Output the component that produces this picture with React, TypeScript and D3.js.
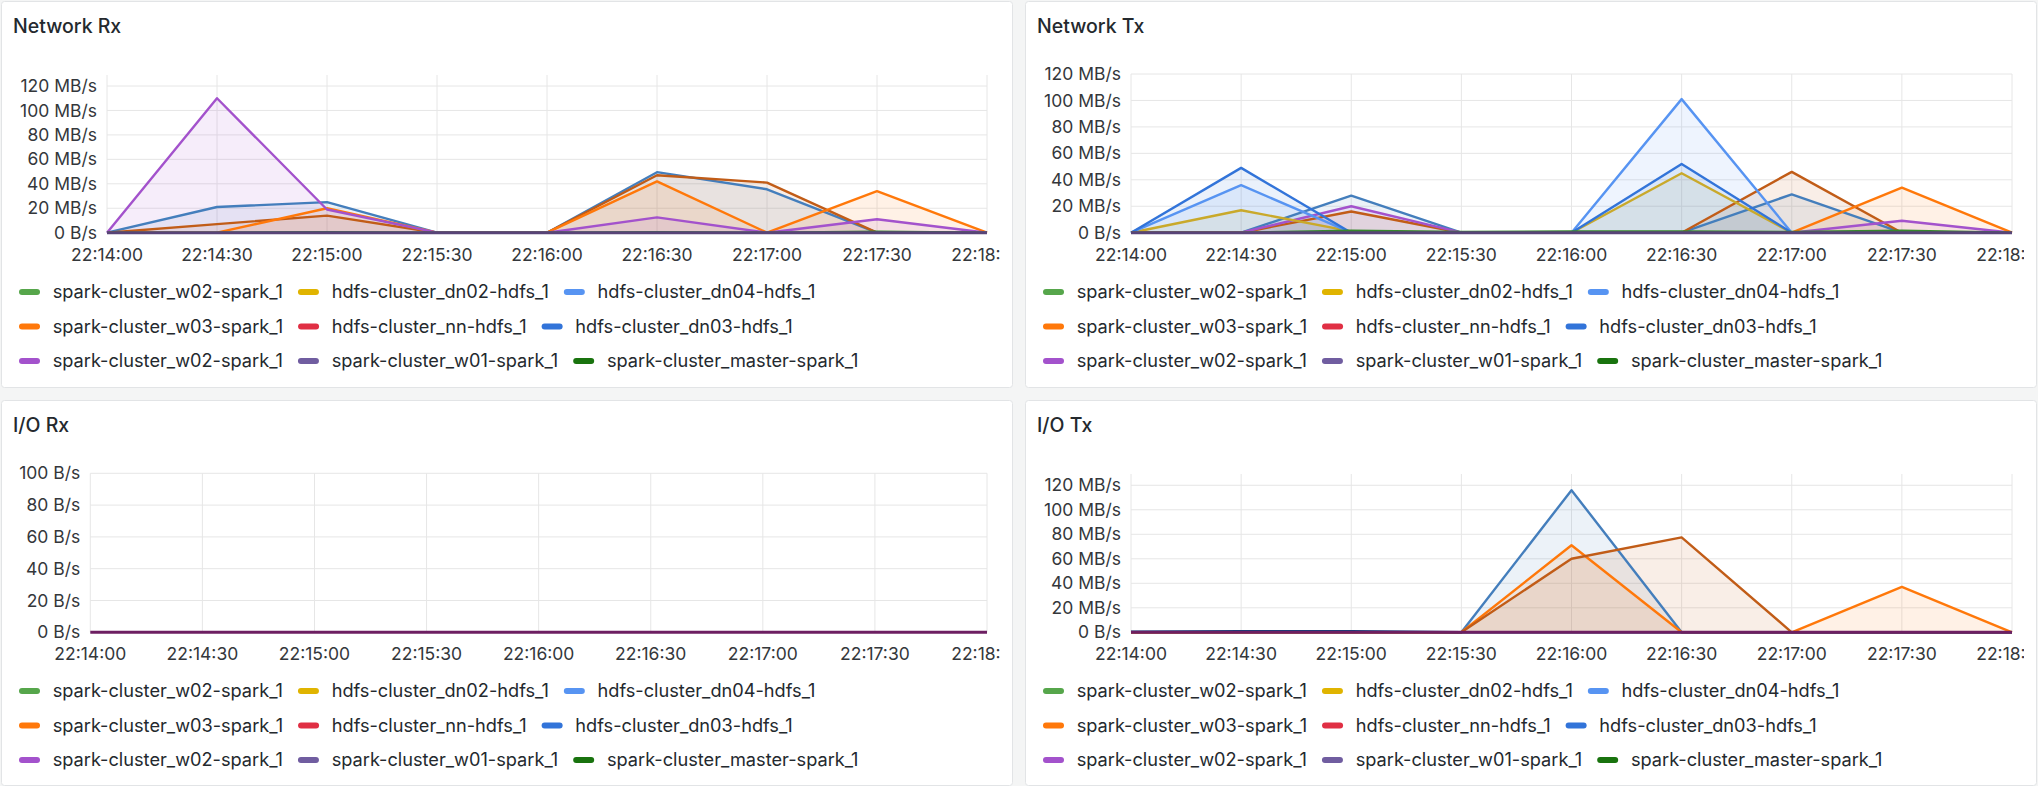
import React, { useRef, useEffect } from 'react';
import * as d3 from 'd3';

// sample times, one every 30 s
const times = ['22:14:00', '22:14:30', '22:15:00', '22:15:30', '22:16:00', '22:16:30', '22:17:00', '22:17:30', '22:18:00'];

const legendNames = [
  'spark-cluster_w02-spark_1', 'hdfs-cluster_dn02-hdfs_1', 'hdfs-cluster_dn04-hdfs_1',
  'spark-cluster_w03-spark_1', 'hdfs-cluster_nn-hdfs_1', 'hdfs-cluster_dn03-hdfs_1',
  'spark-cluster_w02-spark_1', 'spark-cluster_w01-spark_1', 'spark-cluster_master-spark_1',
];
const legendColors = ['#56a64b', '#e0b400', '#5794f2', '#ff780a', '#e02f44', '#3274d9', '#a352cc', '#705da0', '#19730e'];

const mbTicks = [0, 20, 40, 60, 80, 100, 120];
const bTicks = [0, 20, 40, 60, 80, 100];

// Network Rx (MB/s)
const rxSteel = [0, 21, 25, 0, 0, 49.5, 35.5, 0, 0];
const rxDarkOrange = [0, 7, 14, 0, 0, 47, 41, 0, 0];
const rxOrange = [0, 0, 20, 0, 0, 42, 0, 34, 0];
const rxPurple = [0, 110, 19, 0, 0, 12.5, 0, 11, 0];
const rxGreen = [0, 0, 0.5, 0, 0, 0.5, 0, 0.8, 0];
const rxBase = [0, 0, 0, 0, 0, 0, 0, 0, 0];

// Network Tx (MB/s)
const txSteel = [0, 0, 28, 0, 0, 0, 29, 0, 0];
const txDarkOrange = [0, 0, 16, 0, 0, 0, 46, 0, 0];
const txPurple = [0, 0, 20, 0, 0, 0, 0, 9, 0];
const txYellow = [0, 17, 1, 0, 0, 45, 0, 0, 0];
const txLightBlue = [0, 36, 0, 0, 0, 101, 0, 0, 0];
const txBlue = [0, 49, 0, 0, 0, 52, 0, 0, 0];
const txOrange = [0, 0, 0, 0, 0, 0, 0, 34, 0];
const txGreen = [0, 0, 1.5, 0.5, 1, 1, 0.5, 1.5, 0];
const txBase = [0, 0, 0, 0, 0, 0, 0, 0, 0];

// I/O Rx (B/s)
const ioRxBase = [0, 0, 0, 0, 0, 0, 0, 0, 0];

// I/O Tx (MB/s)
const ioTxSteel = [0, 0, 0, 0, 116, 0, 0, 0, 0];
const ioTxOrange = [0, 0, 0, 0, 71, 0, 0, 37, 0];
const ioTxDarkOrange = [0, 0, 0, 0, 60, 77.5, 0, 0, 0];
const ioTxNavy = [0.5, 1, 1, 0, 0, 0, 0, 0, 0];
const ioTxBase = [0, 0, 0, 0, 0, 0, 0, 0, 0];

const mbFormat = (v: number) => (v === 0 ? '0 B/s' : `${v} MB/s`);
const bFormat = (v: number) => `${v} B/s`;

const panels = [
  {
    title: 'Network Rx', x: 1, y: 1, w: 1011, h: 386,
    left: 107, right: 987, top: 75, zero: 232.7, max: 129, ticks: mbTicks, fmt: mbFormat,
    series: [
      { v: rxSteel, c: '#447ebc' }, { v: rxDarkOrange, c: '#c15c17' }, { v: rxOrange, c: '#ff780a' },
      { v: rxPurple, c: '#a352cc' }, { v: rxGreen, c: '#37872d' }, { v: rxBase, c: '#584477', base: true },
    ],
  },
  {
    title: 'Network Tx', x: 1025, y: 1, w: 1011, h: 386,
    left: 1131, right: 2012, top: 74, zero: 232.7, max: 120, ticks: mbTicks, fmt: mbFormat,
    series: [
      { v: txSteel, c: '#447ebc' }, { v: txDarkOrange, c: '#c15c17' }, { v: txPurple, c: '#a352cc' },
      { v: txYellow, c: '#c9a92b' }, { v: txLightBlue, c: '#5794f2' }, { v: txBlue, c: '#3274d9' },
      { v: txOrange, c: '#ff780a' }, { v: txGreen, c: '#37872d' }, { v: txBase, c: '#584477', base: true },
    ],
  },
  {
    title: 'I/O Rx', x: 1, y: 400, w: 1011, h: 385,
    left: 90.3, right: 987, top: 473.3, zero: 632.3, max: 100, ticks: bTicks, fmt: bFormat,
    series: [{ v: ioRxBase, c: '#6d1f62', base: true }],
  },
  {
    title: 'I/O Tx', x: 1025, y: 400, w: 1011, h: 385,
    left: 1131, right: 2012, top: 474, zero: 632.3, max: 129.2, ticks: mbTicks, fmt: mbFormat,
    series: [
      { v: ioTxSteel, c: '#447ebc' }, { v: ioTxOrange, c: '#ff780a' }, { v: ioTxDarkOrange, c: '#c15c17' },
      { v: ioTxNavy, c: '#0a437c' }, { v: ioTxBase, c: '#6d1f62', base: true },
    ],
  },
];

const FONT = 'Inter, "Noto Sans", sans-serif';

export default function App() {
  const svgRef = useRef<SVGSVGElement>(null);

  useEffect(() => {
    const width = 2038;
    const height = 786;
    const svg = d3.select(svgRef.current);
    svg.selectAll('*').remove();
    svg.attr('width', width).attr('height', height).attr('viewBox', [0, 0, width, height]);

    svg.append('rect').attr('width', width).attr('height', height).attr('fill', '#f4f5f5');

    const parse = d3.timeParse('%H:%M:%S');
    const dates = times.map(t => parse(t) as Date);

    panels.forEach((p, pi) => {
      const g = svg.append('g');
      g.append('rect')
        .attr('x', p.x + 0.5).attr('y', p.y + 0.5)
        .attr('width', p.w).attr('height', p.h)
        .attr('rx', 3)
        .attr('fill', '#fff')
        .attr('stroke', '#e2e4e6');

      g.append('text')
        .attr('x', p.x + 12).attr('y', p.y + 32)
        .attr('font-family', FONT).attr('font-size', 19.5).attr('font-weight', 500)
        .attr('fill', '#24292e')
        .text(p.title);

      const x = d3.scaleTime().domain([dates[0], dates[dates.length - 1]]).range([p.left, p.right]);
      const y = d3.scaleLinear().domain([0, p.max]).range([p.zero, p.top]);

      // grid
      const xTicks = x.ticks(d3.timeSecond.every(30) as any);
      g.append('g').selectAll('line').data(xTicks).join('line')
        .attr('x1', d => x(d)).attr('x2', d => x(d))
        .attr('y1', p.top).attr('y2', p.zero)
        .attr('stroke', '#e6e6e6').attr('stroke-width', 1);
      g.append('g').selectAll('line').data(p.ticks).join('line')
        .attr('x1', p.left).attr('x2', p.right)
        .attr('y1', d => y(d)).attr('y2', d => y(d))
        .attr('stroke', '#e6e6e6').attr('stroke-width', 1);

      // y labels
      g.append('g').selectAll('text').data(p.ticks).join('text')
        .attr('x', p.left - 10).attr('y', d => y(d)).attr('dy', '0.35em')
        .attr('text-anchor', 'end')
        .attr('font-family', FONT).attr('font-size', 17.5).attr('fill', '#34373b')
        .text(d => p.fmt(d));

      // x labels, clipped at the panel edge like the original
      const clipId = `clip-x-${pi}`;
      svg.append('clipPath').attr('id', clipId).append('rect')
        .attr('x', p.x).attr('y', p.y).attr('width', p.w - 12).attr('height', p.h);
      const fmtTime = d3.timeFormat('%H:%M:%S');
      g.append('g').attr('clip-path', `url(#${clipId})`)
        .selectAll('text').data(xTicks).join('text')
        .attr('x', d => x(d)).attr('y', p.zero + 28)
        .attr('text-anchor', 'middle')
        .attr('font-family', FONT).attr('font-size', 17.5).attr('fill', '#34373b')
        .text(d => fmtTime(d));

      // series
      const area = d3.area<number>()
        .x((_, i) => x(dates[i]))
        .y0(y(0))
        .y1(d => y(d));
      const line = d3.line<number>()
        .x((_, i) => x(dates[i]))
        .y(d => y(d));

      p.series.forEach(s => {
        g.append('path').attr('d', area(s.v))
          .attr('fill', s.c).attr('fill-opacity', 0.1);
      });
      p.series.forEach((s: any) => {
        g.append('path').attr('d', line(s.v))
          .attr('fill', 'none').attr('stroke', s.c)
          .attr('stroke-width', s.base ? 3 : 2.4).attr('stroke-linejoin', 'round');
      });

      // legend
      const rowsY = [p.y + 291, p.y + 325.5, p.y + 360];
      const lg = g.append('g');
      let cx = p.x + 18;
      legendNames.forEach((name, i) => {
        if (i % 3 === 0) cx = p.x + 18;
        const cy = rowsY[Math.floor(i / 3)];
        lg.append('rect')
          .attr('x', cx).attr('y', cy - 3)
          .attr('width', 21).attr('height', 6).attr('rx', 3)
          .attr('fill', legendColors[i]);
        const t = lg.append('text')
          .attr('x', cx + 33.7).attr('y', cy).attr('dy', '0.35em')
          .attr('font-family', FONT).attr('font-size', 18.2).attr('fill', '#24292e')
          .text(name);
        const len = (t.node() as SVGTextElement).getComputedTextLength();
        cx = cx + 33.7 + len + 15;
      });
    });
  }, []);

  return (
    <div style={{ position: 'fixed', left: 0, top: 0 }}>
      <svg ref={svgRef} style={{ display: 'block' }}></svg>
    </div>
  );
}
